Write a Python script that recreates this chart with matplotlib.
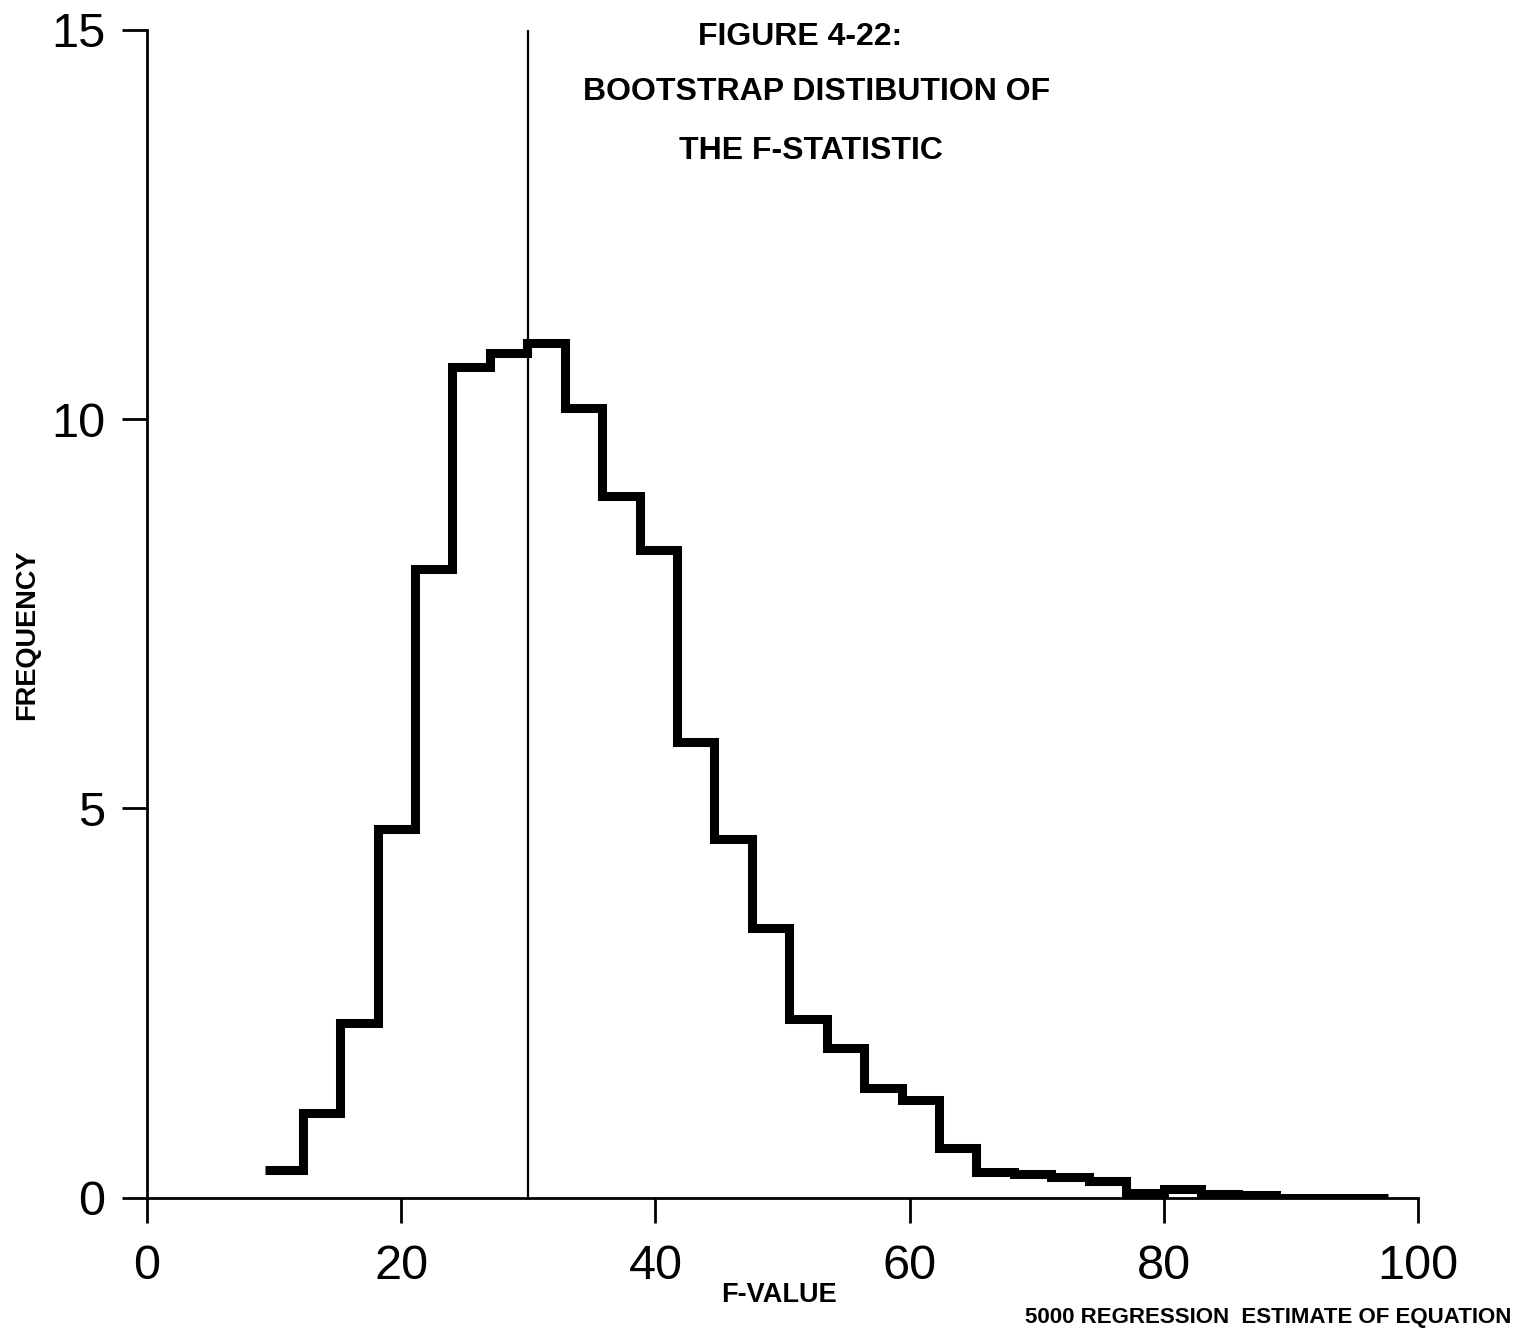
import matplotlib
matplotlib.use('Agg')
import matplotlib.pyplot as plt
import numpy as np

# histogram of 5000 bootstrap F values, in percent per bin
bin_start = 9.3
bin_width = 2.945
freq = [0.36, 1.09, 2.25, 4.73, 8.08, 10.67, 10.85, 10.98, 10.15, 9.02,
        8.32, 5.85, 4.61, 3.46, 2.29, 1.92, 1.41, 1.25, 0.64, 0.33,
        0.31, 0.27, 0.22, 0.06, 0.11, 0.05, 0.04, 0.0, 0.0, 0.0]
f_observed = 30
x_ticks = [0, 20, 40, 60, 80, 100]
y_ticks = [0, 5, 10, 15]

edges = bin_start + bin_width * np.arange(len(freq) + 1)

tick_font = ['Liberation Sans', 'DejaVu Sans']
bold_font = ['Liberation Sans', 'DejaVu Sans']

fig = plt.figure(figsize=(15.24, 13.33), dpi=100)
ax = fig.add_axes([0.0965, 0.1015, 0.834, 0.876])

ax.stairs(freq, edges, baseline=None, color='black', linewidth=6.5)
ax.axvline(f_observed, color='black', linewidth=1.6)

ax.set_xlim(0, 100)
ax.set_ylim(0, 15)
ax.set_xticks(x_ticks)
ax.set_yticks(y_ticks)
for s in ['top', 'right']:
    ax.spines[s].set_visible(False)
for s in ['left', 'bottom']:
    ax.spines[s].set_linewidth(2)
ax.tick_params(axis='both', direction='out', length=18, width=2)
ax.tick_params(axis='x', pad=15)
ax.tick_params(axis='y', pad=12)
for lab in ax.get_xticklabels() + ax.get_yticklabels():
    lab.set_family(tick_font)
    lab.set_fontsize(35)

fig.text(0.525, 0.972, 'FIGURE 4-22:', ha='center', va='center',
         fontsize=23, fontweight='bold', family=bold_font)
fig.text(0.536, 0.931, 'BOOTSTRAP DISTIBUTION OF', ha='center', va='center',
         fontsize=23, fontweight='bold', family=bold_font)
fig.text(0.532, 0.8865, 'THE F-STATISTIC', ha='center', va='center',
         fontsize=23, fontweight='bold', family=bold_font)

fig.text(0.018, 0.524, 'FREQUENCY', rotation=90, ha='center', va='center',
         fontsize=19.5, fontweight='bold', family=bold_font)
fig.text(0.511, 0.0285, 'F-VALUE', ha='center', va='center',
         fontsize=19.5, fontweight='bold', family=bold_font)
fig.text(0.832, 0.012, '5000 REGRESSION  ESTIMATE OF EQUATION', ha='center', va='center',
         fontsize=16, fontweight='bold', family=bold_font)

fig.savefig('out.png', dpi=100, facecolor='white')
